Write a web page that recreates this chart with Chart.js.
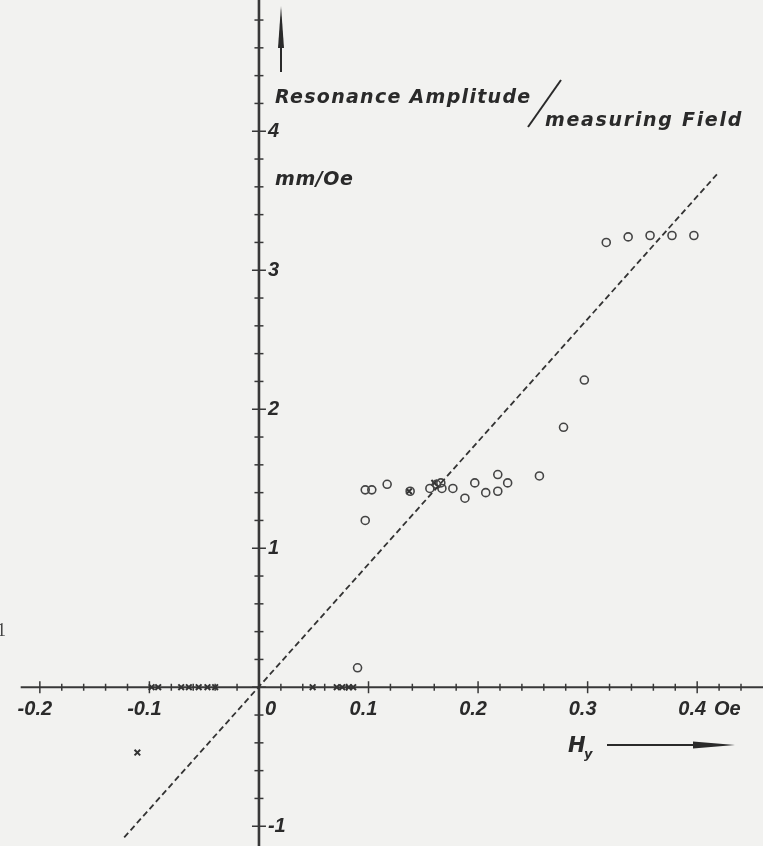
<!DOCTYPE html>
<html><head><meta charset="utf-8">
<script src="https://cdn.jsdelivr.net/npm/chart.js@4"></script>
<style>html,body{margin:0;padding:0;background:#f2f2f0;}canvas{display:block}</style>
</head><body>
<canvas id="c" width="763" height="846"></canvas>
<script>
// ---- data ----
const circleX = [0.090,0.097,0.097,0.103,0.117,0.138,0.156,0.162,0.166,0.167,0.177,0.188,0.197,0.207,0.218,0.218,0.227,0.256,0.278,0.297,0.317,0.337,0.357,0.377,0.397];
const circleY = [0.14,1.20,1.42,1.42,1.46,1.41,1.43,1.46,1.47,1.43,1.43,1.36,1.47,1.40,1.53,1.41,1.47,1.52,1.87,2.21,3.20,3.24,3.25,3.25,3.25];
const crossX = [-0.111,-0.098,-0.092,-0.071,-0.064,-0.055,-0.047,-0.040,0.049,0.071,0.076,0.082,0.086,0.137,0.160];
const crossY = [-0.47,0,0,0,0,0,0,0,0,0,0,0,0,1.41,1.47];
const fitLineX = [-0.123, 0.418];
const fitLineY = [-1.08, 3.69];
const xTickValues = [-0.2,-0.1,0,0.1,0.2,0.3,0.4];
const xTickLabels = ['-0.2','-0.1','0','0.1','0.2','0.3','0.4'];
const xUnitLabel = 'Oe';
const yTickValues = [4,3,2,1,-1];
const yTickLabels = ['4','3','2','1','-1'];
const yTitleA = 'Resonance Amplitude';
const yTitleB = 'measuring Field';
const yUnit = 'mm/Oe';
const xTitle = 'H';
const xTitleSub = 'y';

const INK = '#383838';
const PAPER = '#f2f2f0';

const axesPlugin = {
  id: 'axesPlugin',
  beforeDraw(chart) {
    const ctx = chart.ctx;
    ctx.save(); ctx.fillStyle = PAPER; ctx.fillRect(0, 0, chart.width, chart.height); ctx.restore();
  },
  beforeDatasetsDraw(chart) {
    const ctx = chart.ctx, x = chart.scales.x, y = chart.scales.y;
    const x0 = x.getPixelForValue(0), y0 = y.getPixelForValue(0);
    ctx.save();
    ctx.strokeStyle = INK;
    ctx.lineCap = 'butt';
    ctx.lineWidth = 2.2;
    ctx.beginPath(); ctx.moveTo(x.getPixelForValue(-0.2175), y0); ctx.lineTo(chart.width, y0); ctx.stroke();
    ctx.lineWidth = 2.6;
    ctx.beginPath(); ctx.moveTo(x0, 0); ctx.lineTo(x0, chart.height); ctx.stroke();
    ctx.lineWidth = 1.5;
    for (let i = -10; i <= 22; i++) {
      const px = x.getPixelForValue(i * 0.02);
      const h = (i % 5 === 0) ? 6 : 3.5;
      ctx.beginPath(); ctx.moveTo(px, y0 - h); ctx.lineTo(px, y0 + h); ctx.stroke();
    }
    for (let i = -5; i <= 24; i++) {
      const py = y.getPixelForValue(i * 0.2);
      const w = (i % 5 === 0) ? 7 : 4.5;
      ctx.beginPath(); ctx.moveTo(x0 - w, py); ctx.lineTo(x0 + w, py); ctx.stroke();
    }
    ctx.restore();
  },
  afterDatasetsDraw(chart) {
    const ctx = chart.ctx, x = chart.scales.x, y = chart.scales.y;
    const x0 = x.getPixelForValue(0), y0 = y.getPixelForValue(0);
    ctx.save();
    ctx.fillStyle = '#2a2a2a';
    ctx.strokeStyle = '#2a2a2a';
    ctx.font = 'italic bold 20px "Liberation Sans", Arial, sans-serif';
    ctx.textBaseline = 'alphabetic';
    xTickValues.forEach((v, i) => {
      const px = x.getPixelForValue(v);
      if (v === 0) { ctx.textAlign = 'left'; ctx.fillText(xTickLabels[i], px + 6, y0 + 28); }
      else { ctx.textAlign = 'center'; ctx.fillText(xTickLabels[i], px - 5, y0 + 28); }
    });
    ctx.textAlign = 'left';
    ctx.fillText(xUnitLabel, 714, y0 + 28);
    ctx.textBaseline = 'middle';
    yTickValues.forEach((v, i) => {
      const py = y.getPixelForValue(v);
      ctx.fillText(yTickLabels[i], x0 + 9, py);
    });
    ctx.textBaseline = 'alphabetic';
    ctx.font = 'italic bold 19px "DejaVu Sans", sans-serif';
    try { ctx.letterSpacing = '1.3px'; } catch (e) {}
    ctx.fillText(yTitleA, 275, 103);
    try { ctx.letterSpacing = '1.7px'; } catch (e) {}
    ctx.fillText(yTitleB, 545, 126);
    try { ctx.letterSpacing = '0.6px'; } catch (e) {}
    ctx.fillText(yUnit, 275, 185);
    try { ctx.letterSpacing = '0px'; } catch (e) {}
    ctx.lineWidth = 2;
    ctx.beginPath(); ctx.moveTo(528, 127); ctx.lineTo(561, 80); ctx.stroke();
    ctx.lineWidth = 2;
    ctx.beginPath(); ctx.moveTo(281, 72); ctx.lineTo(281, 44); ctx.stroke();
    ctx.beginPath(); ctx.moveTo(281, 6); ctx.lineTo(284, 48); ctx.lineTo(278, 48); ctx.closePath(); ctx.fill();
    ctx.font = 'italic bold 21px "DejaVu Sans", sans-serif';
    ctx.fillText(xTitle, 568, 752);
    ctx.font = 'italic bold 13px "DejaVu Sans", sans-serif';
    ctx.fillText(xTitleSub, 584, 758);
    ctx.lineWidth = 2;
    ctx.beginPath(); ctx.moveTo(607, 745); ctx.lineTo(700, 745); ctx.stroke();
    ctx.beginPath(); ctx.moveTo(735, 745); ctx.lineTo(693, 741.5); ctx.lineTo(693, 748.5); ctx.closePath(); ctx.fill();
    ctx.font = '18px "Liberation Serif", serif';
    ctx.fillStyle = '#444';
    ctx.fillText('1', -3, 636);
    ctx.restore();
  }
};

new Chart(document.getElementById('c'), {
  type: 'scatter',
  data: {
    datasets: [
      {
        type: 'line',
        data: fitLineX.map((v, i) => ({ x: v, y: fitLineY[i] })),
        borderColor: '#333',
        borderWidth: 1.8,
        borderDash: [6, 3.5],
        pointRadius: 0,
        fill: false
      },
      {
        data: circleX.map((v, i) => ({ x: v, y: circleY[i] })),
        pointStyle: 'circle',
        pointRadius: 4,
        borderWidth: 1.6,
        borderColor: '#444',
        backgroundColor: 'rgba(0,0,0,0)'
      },
      {
        data: crossX.map((v, i) => ({ x: v, y: crossY[i] })),
        pointStyle: 'crossRot',
        pointRadius: 4,
        borderWidth: 2,
        borderColor: '#333',
        backgroundColor: '#333'
      }
    ]
  },
  options: {
    responsive: false,
    animation: false,
    devicePixelRatio: 1,
    layout: { padding: 0 },
    plugins: { legend: { display: false }, tooltip: { enabled: false } },
    scales: {
      x: { type: 'linear', display: false, min: -0.2309, max: 0.4546 },
      y: { type: 'linear', display: false, min: -1.099, max: 4.901 }
    }
  },
  plugins: [axesPlugin]
});
</script>
</body></html>
